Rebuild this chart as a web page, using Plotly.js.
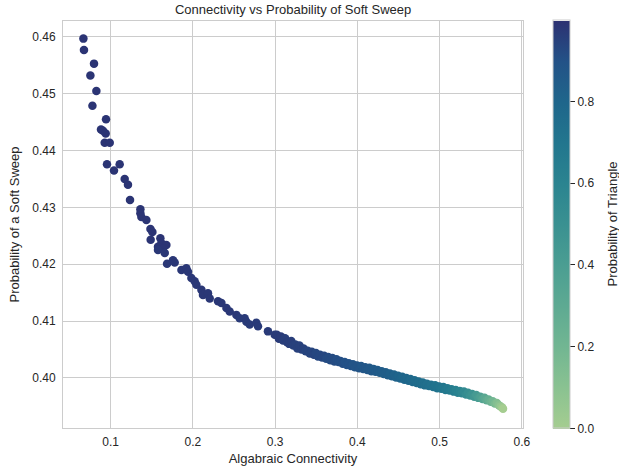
<!DOCTYPE html>
<html>
<head>
<meta charset="utf-8">
<script src="https://cdn.plot.ly/plotly-3.0.1.min.js"></script>
<style>html,body{margin:0;padding:0;background:#fff;}#chart{width:619px;height:469px;}</style>
</head>
<body>
<div id="chart"></div>
<script>
// Algebraic connectivity (x), probability of a soft sweep (y), probability of triangle (colour)
var connectivity = [
0.0668,0.0675,0.0797,0.0753,0.0826,0.0778,0.0943,0.0882,0.0906,0.0939,
0.0927,0.0988,0.0955,0.1109,0.1040,0.1170,0.1210,0.1235,0.1361,0.1361,
0.1373,0.1434,0.1483,0.1507,0.1486,0.1604,0.1616,0.1677,0.1575,0.1636,
0.1575,0.1657,0.1685,0.1757,0.1778,0.1860,0.1920,0.1940,0.1981,0.2021,
0.2042,0.2103,0.2122,0.2183,0.2204,0.2305,0.2346,0.2407,0.2447,0.2528,
0.2568,0.2629,0.2650,0.2690,0.2771,0.2791,0.2912,0.2994,
0.3020,0.3045,0.3070,0.3095,0.3120,0.3145,0.3170,0.3195,0.3220,0.3245,
0.3270,0.3295,0.3320,0.3345,0.3370,0.3395,0.3420,0.3445,0.3470,0.3495,
0.3520,0.3545,0.3570,0.3595,0.3620,0.3645,0.3670,0.3695,0.3720,0.3745,
0.3770,0.3795,0.3820,0.3845,0.3870,0.3895,0.3920,0.3945,0.3970,0.3995,
0.4020,0.4045,0.4070,0.4095,0.4120,0.4145,0.4170,0.4195,0.4220,0.4245,
0.4270,0.4295,0.4320,0.4345,0.4370,0.4395,0.4420,0.4445,0.4470,0.4495,
0.4520,0.4545,0.4570,0.4595,0.4620,0.4645,0.4670,0.4695,0.4720,0.4745,
0.4770,0.4795,0.4820,0.4845,0.4870,0.4895,0.4920,0.4945,0.4970,0.4995,
0.5020,0.5045,0.5070,0.5095,0.5120,0.5145,0.5170,0.5195,0.5220,0.5245,
0.5270,0.5295,0.5320,0.5345,0.5370,0.5395,0.5420,0.5445,0.5470,0.5495,
0.5520,0.5545,0.5570,0.5595,0.5620,0.5645,0.5670,0.5695,0.5720,0.5740,
0.5760,0.5770
];
var softSweep = [
0.4597,0.4577,0.4553,0.4532,0.4505,0.4479,0.4455,0.4437,0.4435,0.4430,
0.4414,0.4414,0.4376,0.4376,0.4365,0.4350,0.4340,0.4313,0.4297,0.4290,
0.4283,0.4278,0.4262,0.4257,0.4243,0.4246,0.4237,0.4234,0.4231,0.4228,
0.4225,0.4220,0.4201,0.4207,0.4203,0.4190,0.4193,0.4187,0.4176,0.4170,
0.4164,0.4155,0.4146,0.4149,0.4140,0.4135,0.4132,0.4123,0.4117,0.4111,
0.4105,0.4105,0.4099,0.4094,0.4097,0.4091,0.4082,0.4076,
0.4076,0.4069,0.4073,0.4066,0.4070,0.4063,0.4060,0.4065,0.4057,0.4059,
0.4052,0.4057,0.4050,0.4052,0.4047,0.4048,0.4043,0.4046,0.4041,0.4044,
0.4038,0.4041,0.4036,0.4039,0.4034,0.4037,0.4031,0.4035,0.4029,0.4033,
0.4028,0.4030,0.4025,0.4028,0.4023,0.4026,0.4021,0.4024,0.4019,0.4022,
0.4017,0.4021,0.4016,0.4019,0.4014,0.4018,0.4012,0.4016,0.4011,0.4014,
0.4009,0.4012,0.4007,0.4010,0.4005,0.4008,0.4003,0.4006,0.4001,0.4004,
0.3999,0.4002,0.3997,0.4000,0.3995,0.3998,0.3993,0.3996,0.3991,0.3994,
0.3989,0.3992,0.3987,0.3990,0.3986,0.3988,0.3984,0.3987,0.3982,0.3985,
0.3981,0.3984,0.3979,0.3982,0.3978,0.3980,0.3976,0.3979,0.3974,0.3977,
0.3973,0.3976,0.3971,0.3974,0.3969,0.3972,0.3967,0.3970,0.3965,0.3967,
0.3963,0.3965,0.3961,0.3962,0.3958,0.3959,0.3955,0.3956,0.3952,0.3950,
0.3948,0.3946
];
var triangleProb = [
0.99,0.99,0.99,0.99,0.99,0.99,0.99,0.99,0.99,0.99,
0.99,0.99,0.99,0.99,0.99,0.99,0.99,0.99,0.99,0.99,
0.99,0.99,0.99,0.99,0.99,0.99,0.99,0.99,0.99,0.99,
0.98,0.98,0.98,0.98,0.98,0.98,0.98,0.98,0.98,0.98,
0.98,0.98,0.98,0.98,0.98,0.98,0.98,0.98,0.98,0.98,
0.97,0.97,0.97,0.97,0.97,0.97,0.97,0.97,
0.97,0.97,0.97,0.96,0.96,0.96,0.96,0.96,0.95,0.95,
0.95,0.95,0.95,0.95,0.94,0.94,0.94,0.94,0.94,0.93,
0.93,0.93,0.93,0.93,0.92,0.92,0.92,0.92,0.92,0.91,
0.91,0.91,0.91,0.90,0.90,0.90,0.90,0.89,0.89,0.89,
0.89,0.88,0.88,0.88,0.87,0.87,0.87,0.86,0.86,0.86,
0.85,0.85,0.84,0.84,0.84,0.83,0.83,0.82,0.82,0.81,
0.81,0.80,0.80,0.79,0.79,0.78,0.78,0.77,0.77,0.76,
0.76,0.75,0.75,0.74,0.74,0.73,0.73,0.72,0.72,0.71,
0.70,0.69,0.68,0.67,0.66,0.65,0.64,0.62,0.61,0.60,
0.58,0.56,0.54,0.52,0.50,0.48,0.46,0.43,0.41,0.38,
0.35,0.32,0.29,0.26,0.23,0.20,0.17,0.13,0.10,0.06,
0.03,0.00
];
var xTicks = [0.1, 0.2, 0.3, 0.4, 0.5, 0.6];
var xTickText = ['0.1', '0.2', '0.3', '0.4', '0.5', '0.6'];
var yTicks = [0.40, 0.41, 0.42, 0.43, 0.44, 0.45, 0.46];
var yTickText = ['0.40', '0.41', '0.42', '0.43', '0.44', '0.45', '0.46'];
var cbTicks = [0.0, 0.2, 0.4, 0.6, 0.8];
var cbTickText = ['0.0', '0.2', '0.4', '0.6', '0.8'];

var crest = [
  [0.0, '#a5cd90'], [0.1, '#8ac291'], [0.2, '#72b692'], [0.3, '#5eaa92'],
  [0.4, '#4b9e92'], [0.5, '#3a9191'], [0.6, '#2b8490'], [0.7, '#22768e'],
  [0.8, '#1f668b'], [0.9, '#235287'], [1.0, '#2c3172']
];

var FONT = 'Liberation Sans, Arial, Helvetica, sans-serif';
var TXT = '#262626';

var trace = {
  type: 'scatter', mode: 'markers',
  x: connectivity, y: softSweep,
  marker: {
    size: 8.5, color: triangleProb, colorscale: crest, cmin: 0, cmax: 0.998,
    line: {width: 0},
    colorbar: {
      x: 1.0652, xanchor: 'left', xpad: 0, ypad: 0,
      y: 0.5, yanchor: 'middle', len: 408, lenmode: 'pixels',
      thickness: 17, thicknessmode: 'pixels',
      outlinewidth: 1, outlinecolor: '#cccccc',
      ticks: 'outside', ticklen: 5, tickwidth: 1, tickcolor: TXT,
      tickvals: cbTicks, ticktext: cbTickText,
      tickfont: {family: FONT, size: 12, color: TXT}
    }
  },
  hoverinfo: 'x+y', showlegend: false
};

var axisCommon = {
  showgrid: true, gridcolor: '#cccccc', gridwidth: 1,
  showline: true, linecolor: '#cccccc', linewidth: 1, mirror: true,
  zeroline: false, ticks: '',
  tickfont: {family: FONT, size: 12, color: TXT}
};

var layout = {
  width: 619, height: 469,
  margin: {l: 63, r: 96, t: 21, b: 41},
  paper_bgcolor: '#ffffff', plot_bgcolor: '#ffffff',
  font: {family: FONT, color: TXT},
  title: {text: 'Connectivity vs Probability of Soft Sweep', x: 0.4735, xanchor: 'center',
          y: 0.979, yanchor: 'middle', font: {family: FONT, size: 13, color: TXT}},
  xaxis: Object.assign({}, axisCommon, {
    range: [0.042, 0.6013], tickvals: xTicks, ticktext: xTickText, ticklabelstandoff: 3,
    title: {text: 'Algabraic Connectivity', standoff: 5, font: {family: FONT, size: 13, color: TXT}}
  }),
  yaxis: Object.assign({}, axisCommon, {
    range: [0.3912, 0.4628], tickvals: yTicks, ticktext: yTickText, ticklabelstandoff: 4,
    title: {text: 'Probability of a Soft Sweep', standoff: 9, font: {family: FONT, size: 13, color: TXT}}
  }),
  annotations: [{
    text: 'Probability of Triangle', textangle: -90,
    xref: 'paper', yref: 'paper', x: 1.1935, y: 0.5, xanchor: 'center', yanchor: 'middle',
    showarrow: false, font: {family: FONT, size: 13, color: TXT}
  }]
};

Plotly.newPlot('chart', [trace], layout, {displayModeBar: false, staticPlot: true});
</script>
</body>
</html>
